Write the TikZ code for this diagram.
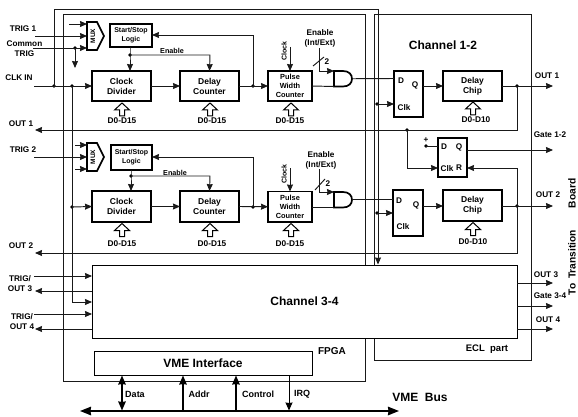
\documentclass[tikz,border=0pt]{standalone}
\usepackage{fontspec}
\setmainfont{Liberation Sans}
\usetikzlibrary{arrows.meta,calc}
\newcommand{\fs}[2]{\fontsize{#1}{#2}\selectfont\bfseries}
% name, x1,y1,x2,y2, style, text
\newcommand{\blk}[7]{\node[#6,minimum width={#4-#2},minimum height={#5-#3}] (#1) at ({(#2+#4)/2},{(#3+#5)/2}) {#7};}
% MUX polygon: name, top y
\newcommand{\muxg}[2]{%
  \draw[heavy,fill=white] (87,#2) -- (97,#2) -- (104,#2+14) -- (97,#2+28) -- (87,#2+28) -- cycle;
  \node[rotate=90,font=\fs{6.5}{7}] (#1) at (93,#2+14) {MUX};}
% AND gate: name, top y
\newcommand{\andg}[2]{%
  \coordinate (#1a) at (334,#2);
  \coordinate (#1b) at (334,#2+15.5);
  \coordinate (#1o) at (352,#2+7.75);
  \draw[heavy,fill=white] (#1a) -- (343,#2) .. controls (349,#2) and (352,#2+3.5) .. (#1o) .. controls (352,#2+12) and (349,#2+15.5) .. (343,#2+15.5) -- (#1b) -- cycle;}
\tikzset{
  x=1pt,y=-1pt,
  thin line/.style={line width=.95pt,draw=black!90},
  heavy/.style={line width=1.7pt,draw=black},
  arr/.style={thin line,-{Stealth[length=7pt,width=6pt,inset=.5pt]}},
  farr/.style={line width=1.4pt,-{Stealth[length=9pt,width=7.5pt,inset=.5pt]}},
  box/.style={heavy,fill=white,align=center,inner sep=0pt,outer sep=0pt},
  frame/.style={thin line,inner sep=0pt,outer sep=0pt},
  dotn/.style={circle,fill=black,inner sep=0pt,minimum size=3.8pt},
  lab/.style={inner sep=0pt,align=center,font=\fs{8.2}{10}},
  slab/.style={inner sep=0pt,align=center,font=\fs{7.2}{9}},
  big/.style={inner sep=0pt,align=center,font=\fs{12}{14}},
  hollow/.pic={\draw[line width=1pt,draw=black,fill=white] (0,0) -- (7.5,7) -- (2.5,7) -- (2.5,13) -- (-2.5,13) -- (-2.5,7) -- (-7.5,7) -- cycle;},
}
\begin{document}
\begin{tikzpicture}
\useasboundingbox (0,0) rectangle (578,417);
% frames
\blk{fpga}{63}{14.5}{365}{381}{frame,draw}{}
\blk{ecl}{374}{14.5}{531}{360}{frame,draw}{}
% named junctions
\node[dotn] (dclk) at (54,86) {};
\node[dotn] (dclk2) at (72,86) {};
\node[dotn] (dclkb) at (72,207) {};
\node[dotn] (dtrig) at (75,48) {};
\node[dotn] (den1) at (130,55) {};
\node[dotn] (den2) at (131,176) {};
\node[dotn] (dfb1) at (253,86) {};
\node[dotn] (dfb2) at (253,207) {};
\node[dotn] (dck1) at (377,104) {};
\node[dotn] (dck2) at (377,213) {};
\node[dotn] (dout1) at (517,86) {};
\node[dotn] (dout2) at (517,206) {};
\node[dotn] (dclkff) at (407,130) {};
\node[dotn] (dplus) at (426,146) {};
% blocks row 1
\blk{ss1}{110}{24}{152}{47}{box,draw,font=\fs{7}{9}}{Start/Stop\\Logic}
\blk{cd1}{92}{71}{151}{101}{box,draw,font=\fs{8.5}{10}}{Clock\\Divider}
\blk{dc1}{180}{71}{239}{101}{box,draw,font=\fs{8.5}{10}}{Delay\\Counter}
\blk{pw1}{268}{71}{312}{101}{box,draw,font=\fs{7.4}{9}}{Pulse\\Width\\Counter}
\blk{ff1}{394}{71}{423}{117}{box,draw}{}
\blk{ch1}{443}{71}{502}{101}{box,draw,font=\fs{8.5}{10}}{Delay\\Chip}
\blk{ffg}{438}{138}{467}{177}{box,draw}{}
% blocks row 2
\blk{ss2}{111}{145}{152}{170}{box,draw,font=\fs{7}{9}}{Start/Stop\\Logic}
\blk{cd2}{92}{191}{151}{222}{box,draw,font=\fs{8.5}{10}}{Clock\\Divider}
\blk{dc2}{180}{191}{239}{222}{box,draw,font=\fs{8.5}{10}}{Delay\\Counter}
\blk{pw2}{268}{191.5}{312}{222}{box,draw,font=\fs{7.4}{9}}{Pulse\\Width\\Counter}
\blk{ff2}{393}{190}{423}{236}{box,draw}{}
\blk{ch2}{443}{190}{502}{221}{box,draw,font=\fs{8.5}{10}}{Delay\\Chip}
% big blocks
\blk{ch34}{92}{265}{517}{338}{draw,line width=.95pt,fill=white,inner sep=0pt,outer sep=0pt,font=\fs{12}{14}}{Channel 3-4}
\blk{vme}{94}{351}{312}{375}{draw,line width=.95pt,fill=white,inner sep=0pt,outer sep=0pt,font=\fs{12}{14}}{VME Interface}
% MUX and AND
\muxg{mux1}{22}
\muxg{mux2}{143}
\andg{an1}{71}
\andg{an2}{192}
% free-end coordinates
\coordinate (t1) at (35,36);
\coordinate (t0) at (69,24);
\coordinate (tc) at (33,48);
\coordinate (tcd) at (75,68);
\coordinate (t2) at (34,157);
\coordinate (m2a) at (75,145);
\coordinate (m2c) at (75,169);
\coordinate (ci) at (34,86);
\coordinate (o1l) at (35,130);
\coordinate (o2l) at (35,253);
\coordinate (o1r) at (553,86);
\coordinate (o2r) at (553,206);
\coordinate (g1r) at (553,150);
\coordinate (topl) at (54,9);
\coordinate (topr) at (378,9);
% clock tree
\draw[arr] (dclk.center) -- (topl) -- (topr) -- (378,264.5);
\draw[arr] (dck1.center) -- (394,104);
\draw[arr] (dck2.center) -- (393,213);
\draw[arr] (ci) -- (cd1.west);
\draw[arr] (dclk2.center) -- (72,302) -- (92,302);
\draw[arr] (dclkb.center) -- (cd2.west);
% mux inputs
\draw[arr] (t0) -- (87,24);
\draw[arr] (t1) -- (87,36);
\draw[arr] (tc) -- (87,48);
\draw[arr] (dtrig.center) -- (tcd);
\draw[arr] (m2a) -- (87,145);
\draw[arr] (t2) -- (87,157);
\draw[arr] (m2c) -- (87,169);
% row 1
\draw[arr] (ss1.south -| den1) -- (den1.center) -- (130,71);
\draw[arr] (den1.center) -- (210,55) -- (dc1.north);
\draw[arr] (cd1.east) -- (dc1.west);
\draw[arr] (dc1.east) -- (pw1.west);
\draw[arr] (dfb1.center) -- (253,35) -- (ss1.east |- 0,35);
\draw[arr] (290,47) -- (290,71);
\draw[arr] (319,48) -- (319,71) -- (an1a);
\draw[thin line] (313,66) -- (324,57);
\draw[thin line] (pw1.east) -- (an1b);
\draw[thin line] (an1o) -- (394,78.5);
\draw[arr] (423,86) -- (ch1.west);
\draw[arr] (ch1.east) -- (o1r);
\draw[thin line] (dout1.center) -- (517,130) -- (dclkff.center);
\draw[arr] (dclkff.center) -- (o1l);
\draw[arr] (dclkff.center) -- (407,168) -- (438,168);
\draw[thin line] (dplus.center) -- (438,146);
\draw[arr] (467,150) -- (g1r);
\draw[arr] (517,168) -- (467,168);
\draw[thin line] (517,168) -- (dout2.center);
% row 2
\draw[arr] (ss2.south -| den2) -- (den2.center) -- (131,191);
\draw[arr] (den2.center) -- (210,176) -- (dc2.north);
\draw[arr] (cd2.east) -- (dc2.west);
\draw[arr] (dc2.east) -- (pw2.west);
\draw[arr] (dfb2.center) -- (253,157) -- (152,157);
\draw[arr] (290,168) -- (290,191.5);
\draw[arr] (319,169) -- (319,192) -- (an2a);
\draw[thin line] (315,190) -- (325,179);
\draw[thin line] (pw2.east |- an2b) -- (an2b);
\draw[thin line] (an2o) -- (393,199.75);
\draw[arr] (423,206) -- (443,206);
\draw[arr] (502,206) -- (o2r);
\draw[arr] (dout2.center) -- (517,253) -- (o2l);
% channel 3-4 connections
\coordinate (tr3) at (34,276);
\coordinate (ou3) at (35,291);
\coordinate (tr4) at (34,314);
\coordinate (ou4) at (35,329);
\draw[arr] (tr3) -- (92,276);
\draw[arr] (92,291) -- (ou3);
\draw[arr] (tr4) -- (92,314);
\draw[arr] (92,329) -- (ou4);
\draw[arr] (517,283) -- (553,283);
\draw[arr] (517,306) -- (553,306);
\draw[arr] (517,329) -- (553,329);
% hollow arrows
\path (122,103) pic {hollow};
\path (210,103) pic {hollow};
\path (291,103) pic {hollow};
\path (473,102) pic {hollow};
\path (122,223.5) pic {hollow};
\path (210,223.5) pic {hollow};
\path (291,223.5) pic {hollow};
\path (473,222.5) pic {hollow};
% VME bus
\coordinate (busl) at (80,411);
\coordinate (busr) at (399,411);
\draw[line width=1.8pt,{Stealth[length=11pt,width=8.5pt,inset=.5pt]}-{Stealth[length=11pt,width=8.5pt,inset=.5pt]}] (busl) -- (busr);
\draw[line width=1.4pt,{Stealth[length=9pt,width=7.5pt,inset=.5pt]}-{Stealth[length=9pt,width=7.5pt,inset=.5pt]}] (122,375.5) -- (122,410.5);
\draw[farr] (183,411) -- (183,375.5);
\draw[farr] (236,411) -- (236,375.5);
\draw[line width=1pt,-{Stealth[length=8pt,width=7pt,inset=.5pt]}] (289,375) -- (289,410.5);
% labels: left
\node[lab] (l1) at (23,29) {TRIG 1};
\node[lab] (l2) at (24.5,49) {Common\\TRIG};
\node[lab] (l3) at (19,78) {CLK IN};
\node[lab] (l4) at (21,124) {OUT 1};
\node[lab] (l5) at (23,150) {TRIG 2};
\node[lab] (l6) at (21,246) {OUT 2};
\node[lab] (l7) at (20,283.5) {TRIG/\\OUT 3};
\node[lab] (l8) at (22,321.5) {TRIG/\\OUT 4};
% labels: small
\node[slab] (e1) at (172,51) {Enable};
\node[slab] (e2) at (175,173) {Enable};
\node[lab] (e3) at (320,38.5) {Enable\\(Int/Ext)};
\node[lab] (e4) at (321,160.5) {Enable\\(Int/Ext)};
\node[lab] (n1) at (327,62) {2};
\node[lab] (n2) at (328,184) {2};
\node[rotate=90,inner sep=0pt,font=\fs{7}{8}] (c1) at (284,51) {Clock};
\node[rotate=90,inner sep=0pt,font=\fs{7}{8}] (c2) at (284,174) {Clock};
% data labels
\foreach \nm/\x/\y/\t in {a/122/121/D0-D15,b/212/121/D0-D15,c/290/121/D0-D15,d/476/120/D0-D10,e/122/244/D0-D15,f/212/244/D0-D15,g/290/244/D0-D15,h/473/242/D0-D10}
  \node[lab,font=\fs{8.3}{10}] (d\nm) at (\x,\y) {\t};
% FF pins
\node[lab] (p1) at (401,81) {D};
\node[lab] (p2) at (415,85) {Q};
\node[lab] (p3) at (404,108) {Clk};
\node[lab] (p4) at (399,201) {D};
\node[lab] (p5) at (416,205) {Q};
\node[lab] (p6) at (403,227) {Clk};
\node[lab] (p7) at (444,147) {D};
\node[lab] (p8) at (459,147) {Q};
\node[lab] (p9) at (447,169) {Clk};
\node[lab] (p10) at (459,168) {R};
\node[lab] (plus) at (426,140) {+};
% headings
\node[big] (h1) at (443,45) {Channel 1-2};
\node[lab,font=\fs{10}{12}] (h2) at (332,351) {FPGA};
\node[lab,font=\fs{9.5}{12}] (h3) at (487,349) {ECL\ \ part};
\node[big] (h4) at (420,397) {VME\ \ Bus};
\node[lab,font=\fs{9}{11}] (v1) at (135,394) {Data};
\node[lab,font=\fs{9}{11}] (v2) at (199,394) {Addr};
\node[lab,font=\fs{9}{11}] (v3) at (258,394) {Control};
\node[lab,font=\fs{9}{11}] (v4) at (302,394) {IRQ};
% right labels
\node[lab] (r1) at (547,76) {OUT 1};
\node[lab] (r2) at (550,135) {Gate 1-2};
\node[lab] (r3) at (548,195) {OUT 2};
\node[lab] (r4) at (546,275) {OUT 3};
\node[lab] (r5) at (550,296) {Gate 3-4};
\node[lab] (r6) at (548,320) {OUT 4};
\node[rotate=90,inner sep=0pt,font=\fs{10.2}{12}] (side) at (572,237) {To\hspace{5pt}Transition\hspace{22pt}Board};
\end{tikzpicture}
\end{document}
